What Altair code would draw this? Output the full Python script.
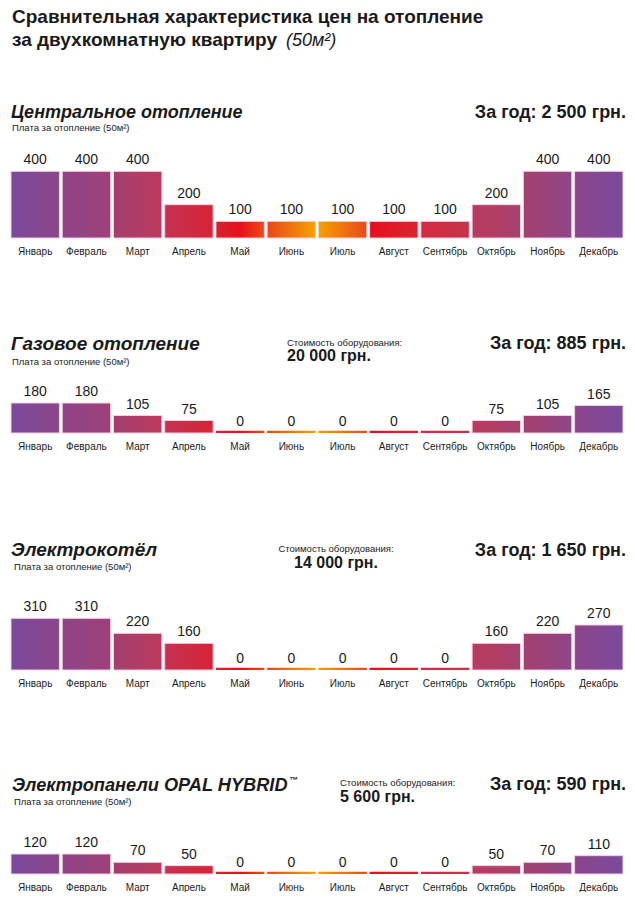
import altair as alt
import pandas as pd

months = ["Январь", "Февраль", "Март", "Апрель", "Май", "Июнь", "Июль",
          "Август", "Сентябрь", "Октябрь", "Ноябрь", "Декабрь"]

central = [400, 400, 400, 200, 100, 100, 100, 100, 100, 200, 400, 400]
gas = [180, 180, 105, 75, 0, 0, 0, 0, 0, 75, 105, 165]
electro = [310, 310, 220, 160, 0, 0, 0, 0, 0, 160, 220, 270]
opal = [120, 120, 70, 50, 0, 0, 0, 0, 0, 50, 70, 110]

titles = ["Центральное отопление", "Газовое отопление", "Электрокотёл",
          "Электропанели OPAL HYBRID"]
year_totals = ["За год: 2 500 грн.", "За год: 885 грн.", "За год: 1 650 грн.",
               "За год: 590 грн."]
equipment = [None, "20 000 грн.", "14 000 грн.", "5 600 грн."]

# gradient colours per month (left -> right)
month_colors = [
    ["#7a4a9d", "#8c4589"],
    ["#8e4487", "#a0407a"],
    ["#a3406f", "#bd395c"],
    ["#c33352", "#da2236"],
    ["#d8222e", "#e6101c", "#ef4a12"],
    ["#e84818", "#f5a200"],
    ["#f5a000", "#e84a18"],
    ["#e60f1c", "#dc2430"],
    ["#d52b3e", "#c8324c"],
    ["#ba3b5f", "#a8406e"],
    ["#a3406f", "#904587"],
    ["#8c4589", "#7c4a9d"],
]

FONT = "Liberation Sans"
PX = 6.0  # value units per pixel
W = 635


def grad(cols):
    n = len(cols)
    stops = [alt.GradientStop(color=c, offset=i / (n - 1)) for i, c in enumerate(cols)]
    return alt.Gradient(gradient="linear", stops=stops, x1=0, x2=1, y1=0, y2=0)


def txt(text, x, y, size, weight="normal", style="normal", align="left", color="#1a1a1a"):
    return alt.Chart(pd.DataFrame({"t": [text]})).mark_text(
        font=FONT, fontSize=size, fontWeight=weight, fontStyle=style,
        align=align, baseline="alphabetic", color=color
    ).encode(x=alt.value(x), y=alt.value(y), text="t:N")


def panel(values, H, headers):
    df = pd.DataFrame({"month": months, "value": values})
    xenc = alt.X("month:N", sort=months,
                 scale=alt.Scale(range=[11, 623], paddingInner=0.055, paddingOuter=0),
                 axis=alt.Axis(title=None, domain=False, ticks=False, labelPadding=8,
                               labelFontSize=10, labelFont=FONT, labelColor="#1a1a1a",
                               labelAngle=0))
    yenc = alt.Y("value:Q", scale=alt.Scale(domain=[0, H * PX], nice=False), axis=None)
    layers = []
    base = alt.Chart(df)
    for i, m in enumerate(months):
        g = grad(month_colors[i])
        sub = base.transform_filter(alt.datum.month == m)
        layers.append(sub.transform_filter(alt.datum.value == 0)
                      .mark_tick(color=g, fill=g, thickness=2.2, size=48.5, yOffset=-1.1,
                                 opacity=1)
                      .encode(x=xenc, y=yenc))
        layers.append(sub.transform_filter(alt.datum.value > 0)
                      .mark_bar(color=g, stroke="#f2cfe0", strokeWidth=1)
                      .encode(x=xenc, y=yenc))
    layers.append(base.mark_text(font=FONT, fontSize=14, baseline="bottom", dy=-4,
                                 color="#1a1a1a")
                  .encode(x=xenc, y=yenc, text="value:Q"))
    layers.extend(headers)
    return alt.layer(*layers).properties(width=W, height=H)


# panel 1 (top 0, baseline 238)
h1 = [
    txt("Сравнительная характеристика цен на отопление", 12, 23, 19, weight="bold"),
    txt("за двухкомнатную квартиру", 12, 46, 19, weight="bold"),
    txt("(50м²)", 286, 46, 18, style="italic"),
    txt(titles[0], 11, 118, 18, weight="bold", style="italic"),
    txt("Плата за отопление (50м²)", 12, 131, 9.5),
    txt(year_totals[0], 626, 118, 18, weight="bold", align="right"),
]
p1 = panel(central, 238, h1)

# panel 2 (top 278, baseline 433)
h2 = [
    txt(titles[1], 11, 72, 19, weight="bold", style="italic"),
    txt("Плата за отопление (50м²)", 12, 87, 9.5),
    txt("Стоимость оборудования:", 287, 68, 9.5),
    txt(equipment[1], 287, 83, 16, weight="bold"),
    txt(year_totals[1], 626, 71, 18, weight="bold", align="right"),
]
p2 = panel(gas, 155, h2)

# panel 3 (top 473, baseline 670)
h3 = [
    txt(titles[2], 11, 83, 19, weight="bold", style="italic"),
    txt("Плата за отопление (50м²)", 14, 97, 9.5),
    txt("Стоимость оборудования:", 336, 79, 9.5, align="center"),
    txt(equipment[2], 336, 95, 16, weight="bold", align="center"),
    txt(year_totals[2], 626, 83, 18, weight="bold", align="right"),
]
p3 = panel(electro, 197, h3)

# panel 4 (top 710, baseline 874)
h4 = [
    txt(titles[3], 12, 81, 18.2, weight="bold", style="italic"),
    txt("™", 289, 73, 9, weight="bold"),
    txt("Плата за отопление (50м²)", 14, 95, 9.5),
    txt("Стоимость оборудования:", 340, 76, 9.5),
    txt(equipment[3], 340, 92, 16, weight="bold"),
    txt(year_totals[3], 626, 80, 18, weight="bold", align="right"),
]
p4 = panel(opal, 164, h4)

chart = alt.vconcat(p1, p2, p3, p4, spacing=40, bounds="flush").configure_view(
    stroke=None
).properties(padding=0, background="white")

chart.save("out.html", embed_options={"renderer": "svg", "actions": False})
